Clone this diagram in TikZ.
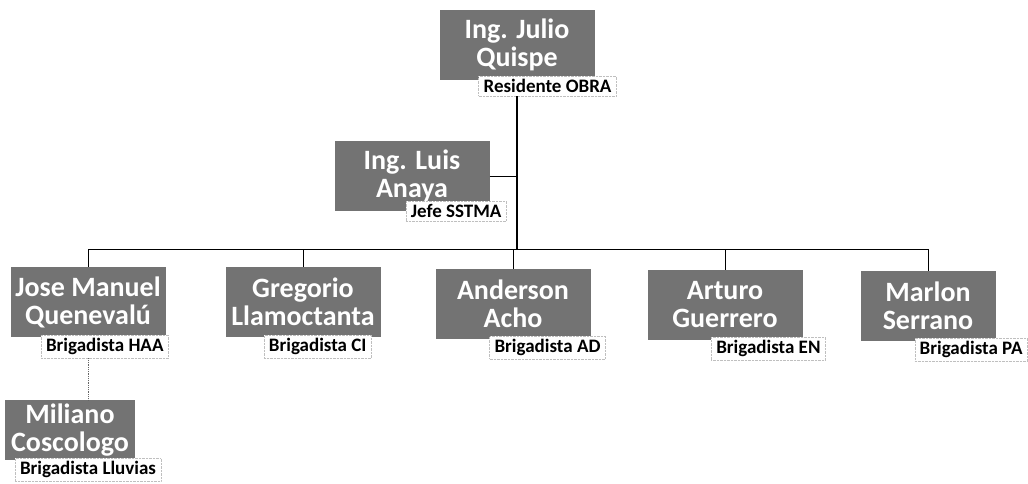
\documentclass[tikz,border=0pt]{standalone}
\usepackage{fontspec}
\setmainfont{Carlito}
\usepackage{xcolor}
\usepackage{tikz}
\usetikzlibrary{arrows.meta,positioning,calc}

\begin{document}
\begin{tikzpicture}[x=1pt,y=-1pt,
  namebox/.style={fill=black!55,text=white,align=center,minimum width=155pt,minimum height=70pt,inner sep=2pt,
    font=\fontsize{28}{28}\selectfont\bfseries},
  rolebox/.style={fill=white,draw=black!25,densely dotted,text=black,anchor=north east,inner xsep=5pt,inner ysep=3pt,
    font=\fontsize{19}{20}\selectfont\bfseries},
  link/.style={draw=black,line width=0.8pt}]
\useasboundingbox (0,0) rectangle (1028,484);
\node[namebox] (julio) at (517,45) {Ing. Julio\\Quispe};
\node[rolebox] (julio-r) at ([xshift=22pt,yshift=4pt]julio.south east) {Residente OBRA};
\node[namebox] (luis) at (412,176) {Ing. Luis\\Anaya};
\node[rolebox] (luis-r) at ([xshift=17pt,yshift=10pt]luis.south east) {Jefe SSTMA};
\node[namebox] (jose) at (88,302) {Jose Manuel\\Quenevalú};
\node[rolebox] (jose-r) at ([xshift=3pt,yshift=2pt]jose.south east) {Brigadista HAA};
\node[namebox] (gregorio) at (303,302) {Gregorio\\Llamoctanta};
\node[rolebox] (gregorio-r) at ([xshift=-9pt,yshift=2pt]gregorio.south east) {Brigadista CI};
\node[namebox] (anderson) at (513,304) {Anderson\\Acho};
\node[rolebox] (anderson-r) at ([xshift=15pt,yshift=3pt]anderson.south east) {Brigadista AD};
\node[namebox] (arturo) at (725,305) {Arturo\\Guerrero};
\node[rolebox] (arturo-r) at ([xshift=23pt,yshift=3pt]arturo.south east) {Brigadista EN};
\node[namebox,minimum width=135pt] (marlon) at (928,306) {Marlon\\Serrano};
\node[rolebox] (marlon-r) at ([xshift=32pt,yshift=3pt]marlon.south east) {Brigadista PA};
\node[namebox,minimum width=130pt,minimum height=60pt] (miliano) at (70,430) {Miliano\\Coscologo};
\node[rolebox] (miliano-r) at ([xshift=26pt,yshift=2pt]miliano.south east) {Brigadista Lluvias};
\coordinate (bar) at (517,249);
\draw[link,line width=1.2pt] (julio-r.south -| julio) -- (bar);
\draw[link] (luis.east) -- (luis.east -| julio);
\draw[link] (jose.north |- bar) -- (marlon.north |- bar);
\foreach \c in {jose,gregorio,anderson,arturo,marlon}
  \draw[link] (\c.north |- bar) -- (\c.north);
\draw[black!60,densely dotted,line width=0.8pt] (jose-r.south -| jose) -- (jose |- miliano.north);
\end{tikzpicture}
\end{document}
